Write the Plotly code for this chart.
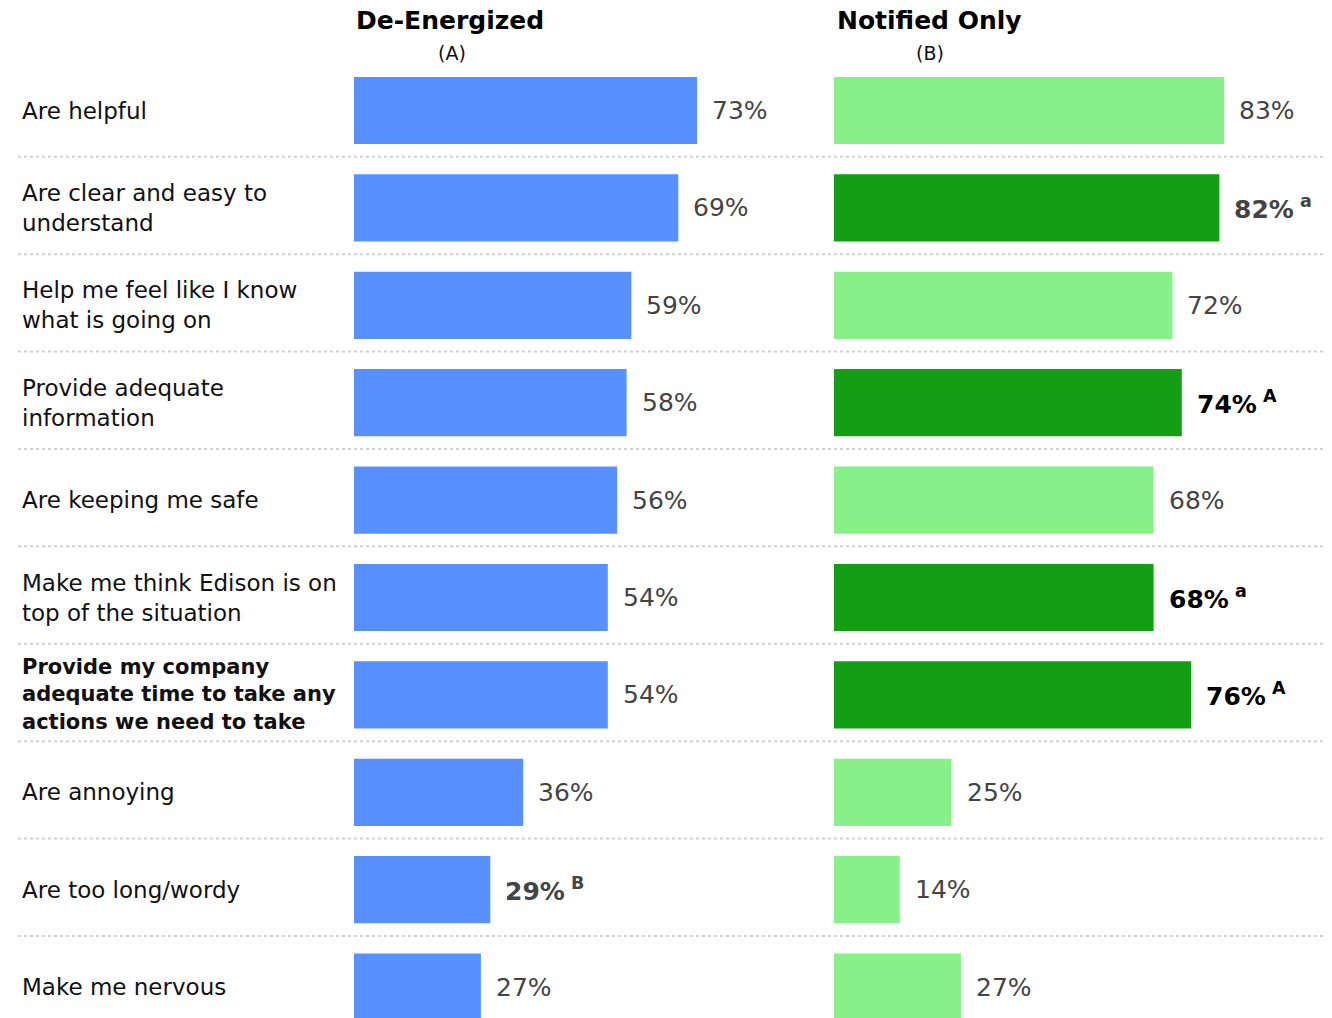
import plotly.graph_objects as go

# datos del gráfico
statements = [
    "Are helpful",
    "Are clear and easy to<br>understand",
    "Help me feel like I know<br>what is going on",
    "Provide adequate<br>information",
    "Are keeping me safe",
    "Make me think Edison is on<br>top of the situation",
    "<b>Provide my company<br>adequate time to take any<br>actions we need to take</b>",
    "Are annoying",
    "Are too long/wordy",
    "Make me nervous",
]
de_energized = [73, 69, 59, 58, 56, 54, 54, 36, 29, 27]
notified_only = [83, 82, 72, 74, 68, 68, 76, 25, 14, 27]
sig_a = ["", "", "", "", "", "", "", "", "B", ""]
sig_b = ["", "a", "", "A", "", "a", "A", "", "", ""]
# color del número cuando es significativo
sig_color_a = ["", "", "", "", "", "", "", "", "#444444", ""]
sig_color_b = ["", "#444444", "", "#000000", "", "#000000", "#000000", "", "", ""]

W, H = 1332, 1018
FONT = "DejaVu Sans"
BLUE = "#5891FF"
LIGHT_GREEN = "#88F088"
DARK_GREEN = "#149E14"

rows = list(range(len(statements)))
row_px, row0_px = 97.4, 110.5
y_top = -row0_px / row_px
y_bot = (H - row0_px) / row_px

fig = go.Figure()

# barras de De-Energized (A)
fig.add_trace(go.Bar(x=de_energized, y=rows, orientation='h', width=0.69,
                     marker=dict(color=BLUE, line=dict(width=0)), xaxis='x', yaxis='y',
                     hoverinfo='skip', showlegend=False))

# barras de Notified Only (B): verde oscuro si es significativo
colors_b = [DARK_GREEN if s else LIGHT_GREEN for s in sig_b]
fig.add_trace(go.Bar(x=notified_only, y=rows, orientation='h', width=0.69,
                     marker=dict(color=colors_b, line=dict(width=0)), xaxis='x2', yaxis='y',
                     hoverinfo='skip', showlegend=False))


def value_label(v, sig, sig_col):
    if not sig:
        return f"{v}%", "#444444"
    return f"<b>{v}%</b><sup><b> {sig}</b></sup>", sig_col


for i in rows:
    # etiqueta de la fila (la negrita es más ancha)
    size = 21 if statements[i].startswith("<b>") else 23
    fig.add_annotation(text=statements[i], x=20 / W, xref='paper', y=i, yref='y',
                       xanchor='left', yanchor='middle', align='left', showarrow=False,
                       font=dict(family=FONT, size=size, color="#111111"))
    # valores A
    txt, col = value_label(de_energized[i], sig_a[i], sig_color_a[i])
    fig.add_annotation(text=txt, x=de_energized[i], xref='x', y=i, yref='y', xanchor='left',
                       yanchor='middle', xshift=13, showarrow=False,
                       font=dict(family=FONT, size=25, color=col))
    # valores B
    txt, col = value_label(notified_only[i], sig_b[i], sig_color_b[i])
    fig.add_annotation(text=txt, x=notified_only[i], xref='x2', y=i, yref='y', xanchor='left',
                       yanchor='middle', xshift=13, showarrow=False,
                       font=dict(family=FONT, size=25, color=col))

# líneas punteadas entre filas
for i in rows[:-1]:
    fig.add_shape(type='line', xref='paper', yref='y', x0=18 / W, x1=1325 / W, y0=i + 0.475, y1=i + 0.475,
                  line=dict(color="#d0d0d0", width=2, dash='dot'))

# encabezados
fig.add_annotation(text="<b>De-Energized</b>", x=354 / W, y=1 - 21 / H, xref='paper', yref='paper',
                   xanchor='left', yanchor='middle', showarrow=False,
                   font=dict(family=FONT, size=25, color="#000000"))
fig.add_annotation(text="(A)", x=452 / W, y=1 - 53 / H, xref='paper', yref='paper',
                   xanchor='center', yanchor='middle', showarrow=False,
                   font=dict(family=FONT, size=19, color="#111111"))
fig.add_annotation(text="<b>Notified Only</b>", x=835 / W, y=1 - 21 / H, xref='paper', yref='paper',
                   xanchor='left', yanchor='middle', showarrow=False,
                   font=dict(family=FONT, size=25, color="#000000"))
fig.add_annotation(text="(B)", x=930 / W, y=1 - 53 / H, xref='paper', yref='paper',
                   xanchor='center', yanchor='middle', showarrow=False,
                   font=dict(family=FONT, size=19, color="#111111"))

axis_off = dict(showgrid=False, zeroline=False, showticklabels=False, showline=False, fixedrange=True)
fig.update_layout(
    width=W, height=H, autosize=False,
    margin=dict(l=0, r=0, t=0, b=0),
    paper_bgcolor='white', plot_bgcolor='white',
    xaxis=dict(domain=[354 / W, 824 / W], range=[0, 100], **axis_off),
    xaxis2=dict(domain=[834 / W, 1304 / W], range=[0, 100], **axis_off),
    yaxis=dict(domain=[0, 1], range=[y_bot, y_top], **axis_off),
    barmode='overlay',
)

# quitar el margen por defecto del body
fig.write_html("out.html", config={'displayModeBar': False},
               post_script="document.body.style.margin='0';")
